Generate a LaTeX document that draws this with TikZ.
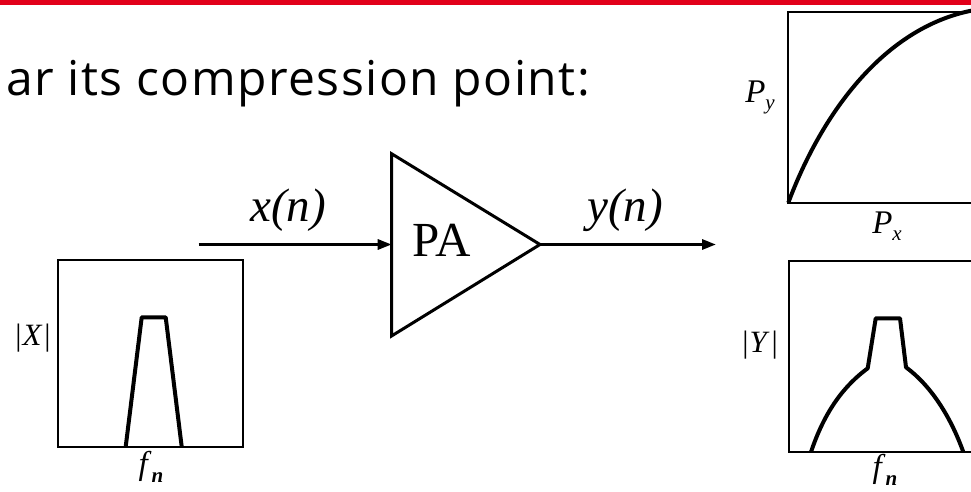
\documentclass[tikz,border=0pt]{standalone}
\usepackage{fontspec}
\setmainfont{Liberation Serif}
\newfontfamily\titlefont[LetterSpace=3]{Open Sans}
\usetikzlibrary{arrows.meta}
\definecolor{fraured}{HTML}{E2001A}
\newcommand\mysub[3]{\textit{#1}\raisebox{-#3}{\fontsize{21}{22}\selectfont #2}}
\begin{document}
\begin{tikzpicture}[x=1pt,y=-1pt,
  frame/.style={line width=2pt},
  trace/.style={line width=4pt,line join=round},
  sig/.style={line width=3pt,-{Triangle[length=14pt,width=10pt]}},
  lbl/.style={inner sep=0pt,font=\fontsize{33}{35}\selectfont},
  big/.style={inner sep=0pt,anchor=base,font=\fontsize{47}{50}\selectfont\itshape}]
\useasboundingbox (0,0) rectangle (971,492);
\clip (0,0) rectangle (971,492);
\fill[fraured] (0,0) rectangle (971,5);
\node[anchor=base east,inner sep=0pt,font=\titlefont\fontsize{48}{52}\selectfont] (title) at (590,96) {ar its compression point:};
% input spectrum
\draw[frame] (58,260) rectangle (242.7,446.7);
\draw[trace] (125.7,446.7) -- (141.7,317.3) -- (165.7,317.3) -- (181.7,446.7);
\node[lbl,font=\fontsize{31}{33}\selectfont] (xl) at (33,338) {|\kern1pt\textit{X}\kern2pt|};
\node[lbl] (fl1) at (151,467) {\mysub{f}{\bfseries\itshape n}{8pt}};
% amplifier
\coordinate (in) at (198.6,244.5);
\coordinate (pain) at (391.7,244.5);
\coordinate (paout) at (540,244.5);
\coordinate (out) at (716,244.5);
\draw[line width=3pt,line join=miter] (391.7,153.8) -- (paout) -- (391.7,335.9) -- cycle;
\node[inner sep=0pt,anchor=base,font=\fontsize{49}{52}\selectfont] (pa) at (442,256.7) {PA};
\draw[sig] (in) -- (pain);
\draw[sig] (paout) -- (out);
\node[big] (xn) at (288,221.7) {x(n)};
\node[big] (yn) at (625,221.7) {y(n)};
% transfer curve
\draw[frame] (975,11.7) -- (788.3,11.7) -- (788.3,202.7) -- (975,202.7);
\draw[trace] (788.3,202.7) .. controls (825,105) and (890,25) .. (975,10);
\node[lbl] (py) at (760,97) {\mysub{P}{\itshape y}{7pt}};
\node[lbl] (px) at (887,226) {\mysub{P}{\itshape x}{7pt}};
% output spectrum
\draw[frame] (975,261) -- (788.7,261) -- (788.7,452) -- (975,452);
\draw[trace] (811,452) .. controls (825,410) and (845,385) .. (867.7,368.3)
  -- (875.7,318.3) -- (900,318.3) -- (906,367.3)
  .. controls (930,385) and (950,415) .. (963.3,452);
\node[lbl,font=\fontsize{31}{33}\selectfont] (yl) at (760,345) {|\kern1pt\textit{Y}\kern2pt|};
\node[lbl] (fl2) at (885,470) {\mysub{f}{\bfseries\itshape n}{8pt}};
\end{tikzpicture}
\end{document}
